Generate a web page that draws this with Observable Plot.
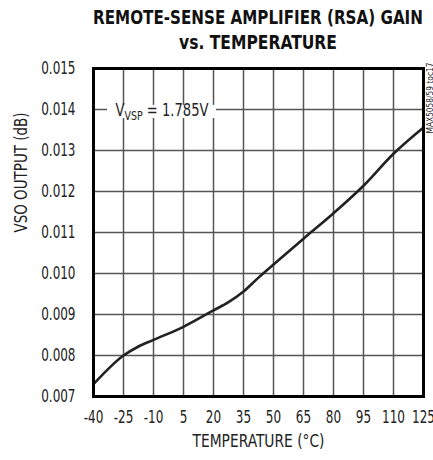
<!DOCTYPE html>
<html><head><meta charset="utf-8">
<script src="https://cdn.jsdelivr.net/npm/d3@7"></script>
<script src="https://cdn.jsdelivr.net/npm/@observablehq/plot@0.6"></script>
<style>
body{margin:0;background:#fff;width:433px;height:460px;overflow:hidden}
svg{display:block}
</style></head><body>
<svg id="title" width="433" height="56" font-family="'DejaVu Sans Condensed','DejaVu Sans',sans-serif" font-weight="bold" font-size="20" fill="#111">
  <text id="t1" x="0" y="0" text-anchor="middle">REMOTE-SENSE AMPLIFIER (RSA) GAIN</text>
  <text id="t2" x="0" y="0" text-anchor="middle">vs. TEMPERATURE</text>
</svg>
<div id="chart"></div>
<script>
const temperature = [-40, -25, -17.5, -10, 5, 20, 27.5, 35, 42.5, 50, 65, 80, 95, 110, 125];
const vsoOutput   = [0.00730, 0.00800, 0.00822, 0.00838, 0.00870, 0.00910, 0.00930, 0.00956, 0.00990, 0.01022, 0.01085, 0.01147, 0.01214, 0.01292, 0.01356];
const xTicks = [-40, -25, -10, 5, 20, 35, 50, 65, 80, 95, 110, 125];
const yTicks = [0.007, 0.008, 0.009, 0.010, 0.011, 0.012, 0.013, 0.014, 0.015];
const annotation = [{x1: -33, x2: 21.5, y1: 0.01378, y2: 0.01410, tx: -33, ty: 0.014, label: "VVSP = 1.785V"}];
const xLabel = "TEMPERATURE (°C)";
const yLabel = "VSO OUTPUT (dB)";
const tocLabel = "MAX5058/59 toc17";

// condensed title via horizontal scaling
function fitTitle(id, cx, y, w) {
  const el = document.getElementById(id);
  const natural = el.getComputedTextLength();
  el.setAttribute("transform", `translate(${cx},${y}) scale(${w / natural},1)`);
}
fitTitle("t1", 258, 24, 330);
fitTitle("t2", 258, 49, 158);

const data = temperature.map((t, i) => ({t, v: vsoOutput[i]}));
const font = "'DejaVu Sans Condensed','DejaVu Sans',sans-serif";

const plot = Plot.plot({
  width: 433,
  height: 404,
  marginTop: 12,
  marginBottom: 64,
  marginLeft: 93,
  marginRight: 10,
  style: {fontFamily: font, fontSize: "18px", color: "#222", background: "#fff"},
  x: {domain: [-40, 125], ticks: xTicks, tickFormat: d => String(d), tickSize: 0, tickPadding: 14, label: null},
  y: {domain: [0.007, 0.015], ticks: yTicks, tickFormat: d3.format(".3f"), tickSize: 0, tickPadding: 18, label: null},
  marks: [
    Plot.ruleX(xTicks, {stroke: "#555", strokeWidth: 1.5}),
    Plot.ruleY(yTicks, {stroke: "#555", strokeWidth: 1.5}),
    Plot.rect(annotation, {x1: "x1", x2: "x2", y1: "y1", y2: "y2", fill: "white"}),
    Plot.line(data, {x: "t", y: "v", stroke: "#222", strokeWidth: 2.6, curve: "monotone-x"}),
    Plot.frame({stroke: "#000", strokeWidth: 3}),
    Plot.text(annotation, {x: "tx", y: "ty", text: "label", textAnchor: "start", dx: 8, dy: 1, fontSize: 18, fill: "#222"}),
    Plot.text([yLabel], {frameAnchor: "left", rotate: -90, dx: -72, fontSize: 18, fill: "#222"}),
    Plot.text([xLabel], {frameAnchor: "bottom", dy: 50, fontSize: 18, fill: "#222"}),
    Plot.text([tocLabel], {frameAnchor: "top-right", rotate: -90, textAnchor: "end", dx: 4, dy: -6, fontSize: 8, fill: "#222"})
  ]
});
document.getElementById("chart").appendChild(plot);

// subscript in the annotation
d3.select(plot).selectAll("text").filter(function() { return this.textContent === "VVSP = 1.785V"; })
  .each(function() {
    const t = d3.select(this);
    t.text(null);
    t.append("tspan").text("V");
    t.append("tspan").attr("font-size", 13).attr("dy", 4).text("VSP");
    t.append("tspan").attr("dy", -4).text(" = 1.785V");
    this.setAttribute("data-fixed", "93");
  });

// condense all chart texts (narrow typeface look)
const fixed = {"TEMPERATURE (°C)": 132, "VSO OUTPUT (dB)": 120, "MAX5058/59 toc17": 71};
d3.select(plot).selectAll("text").each(function() {
  const len = this.getComputedTextLength();
  if (!len) return;
  let target = len * 0.74;
  if (this.getAttribute("data-fixed")) target = +this.getAttribute("data-fixed");
  else if (fixed[this.textContent]) target = fixed[this.textContent];
  this.setAttribute("textLength", target);
  this.setAttribute("lengthAdjust", "spacingAndGlyphs");
});
</script>
</body></html>
